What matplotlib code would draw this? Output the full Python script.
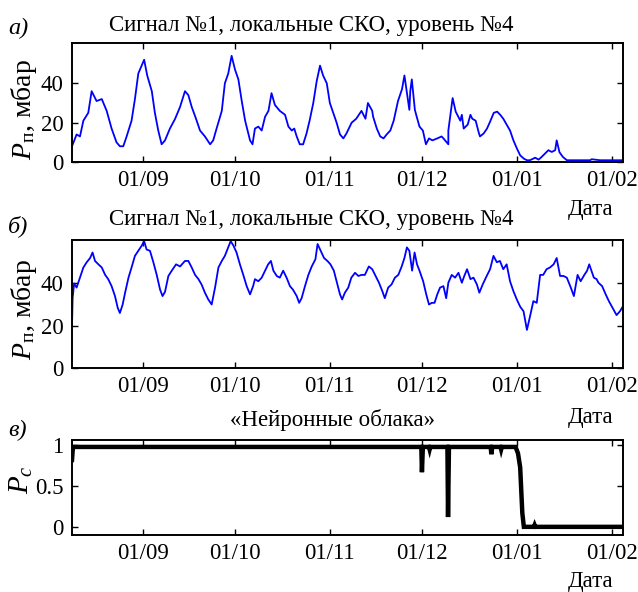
import numpy as np
import matplotlib
matplotlib.use("Agg")
import matplotlib.pyplot as plt
import matplotlib.dates as mdates

plt.rcParams["font.family"] = ["Liberation Serif", "DejaVu Serif"]
plt.rcParams["mathtext.fontset"] = "custom"
plt.rcParams["mathtext.rm"] = "Liberation Serif"
plt.rcParams["mathtext.it"] = "Liberation Serif:italic"
plt.rcParams["font.size"] = 16.5

# day offsets from 09 Aug
start = np.datetime64("2013-08-09")

days_a = [0, 1.5, 2.6, 3.7, 5.3, 6.4, 8.0, 9.7, 11.3, 12.9, 14.5, 15.6, 16.7, 17.8,
          19.4, 20.5, 21.6, 22.7, 23.5, 24.5, 26.0, 27.0, 28.1, 29.2, 30.3, 31.9,
          33.6, 35.2, 36.8, 37.9, 39.0, 40.4, 41.7, 43.3, 45.0, 46.0, 47.1, 48.8,
          49.8, 50.9, 52.0, 53.1, 54.2, 55.3, 56.4, 58.0, 58.8, 59.6, 60.7, 61.8,
          62.9, 64.0, 65.0, 66.1, 67.7, 69.4, 70.5, 71.6, 72.4, 73.2, 74.2, 75.3,
          76.4, 77.4, 78.6, 79.7, 80.8, 81.8, 83.0, 84.0, 85.1, 86.2, 87.3, 88.4,
          89.4, 91.1, 92.6, 94.3, 95.6, 96.4, 97.8, 98.1, 99.3, 100.4, 101.5, 102.5,
          103.7, 104.8, 106.2, 107.5, 108.3, 109.9, 110.2, 110.7, 111.7, 112.3, 113.2,
          114.3, 115.3, 116.3, 117.4, 119.0, 120.4, 121.0, 121.0, 122.6, 122.6, 124.0,
          125.0, 126.5, 127.0, 127.6, 128.9, 129.8, 130.4, 131.5, 132.5, 132.9,
          134.1, 135.2, 136.2, 137.4, 138.5, 139.5, 140.5, 141.6, 142.7, 143.8,
          144.9, 146.0, 147.2, 148.2, 149.2, 150.9, 152.0, 153.0, 154.1, 155.2,
          156.3, 157.4, 157.9, 158.8, 159.9, 161.2, 165.5, 168.8, 169.3, 172.0,
          176.4, 179.5]
p_a = [8, 14, 13, 21, 25, 36, 31, 32, 26, 17, 10, 8, 8, 13,
       21, 32, 45, 49, 52, 44, 36, 25, 16, 9, 11, 17,
       22, 28, 36, 34, 28, 22, 16, 13, 9, 11, 17, 26,
       40, 45, 54, 47, 42, 31, 21, 11, 9, 17, 18, 16,
       23, 26, 35, 29, 26, 24, 18, 16, 17, 13, 9, 9,
       14.5, 21, 30, 41, 49, 44, 40, 30, 25, 20, 14, 12,
       14.5, 20, 22, 26, 22, 30, 26, 23, 17, 13, 12, 14,
       16, 21, 31, 37, 44, 26.5, 36, 42, 26.5, 23, 18,
       16, 9, 12, 11, 12, 13, 12, 12, 9, 16, 32.5,
       25.6, 21, 24, 17, 19, 24, 22, 21, 15, 13,
       14.5, 17, 20.5, 25, 25.6, 24, 22, 19, 16, 11,
       7, 3.4, 1.7, 0.9, 0.9, 2.2, 1.2, 2.6, 4.3, 6,
       5.1, 6, 11, 5, 2.6, 0.9, 0.9, 0.9, 1.4, 0.9,
       0.9, 0.9]

days_b = [0, 0.2, 0.7, 1.5, 2.6, 3.7, 4.8, 5.9, 6.7, 7.5, 8.6, 9.7, 10.8, 11.8,
          12.9, 14.0, 14.9, 15.6, 16.5, 17.3, 18.4, 19.4, 20.5, 21.6, 22.7, 23.5,
          24.3, 25.4, 26.5, 27.6, 28.7, 29.5, 30.3, 31.4, 32.5, 33.9, 35.2, 36.8,
          37.9, 39.0, 40.1, 41.2, 42.2, 43.3, 44.4, 45.5, 46.6, 47.7, 48.8, 49.8,
          50.9, 51.7, 52.6, 53.6, 54.7, 55.8, 56.9, 58.0, 59.0, 59.6, 60.7, 61.8,
          62.9, 63.9, 64.8, 65.6, 66.7, 67.7, 68.8, 69.9, 71.0, 72.0, 73.2, 74.0,
          74.8, 75.9, 77.0, 78.1, 79.3, 80.0, 81.0, 82.1, 83.2, 84.2, 85.3, 86.3,
          87.3, 88.0, 88.9, 90.0, 91.0, 92.2, 93.3, 94.3, 95.4, 96.7, 97.8, 98.9,
          100.0, 101.1, 101.9, 103.0, 104.1, 105.2, 106.3, 107.4, 108.3, 109.1,
          109.9, 110.8, 111.6, 112.4, 113.2, 114.4, 115.4, 116.3, 117.2, 118.1, 119.0,
          119.9, 121.0, 121.9, 122.6, 123.7, 124.8, 125.9, 127.0, 127.8, 128.7, 129.8,
          130.8, 131.9, 132.7, 133.8, 135.1, 136.2, 137.3, 138.4, 139.4, 140.5,
          141.6, 142.7, 143.8, 144.9, 146.0, 147.1, 148.2, 149.3, 150.3, 151.4,
          152.5, 153.5, 154.6, 155.7, 156.9, 157.9, 159.0, 160.1, 161.2, 162.5,
          163.5, 164.7, 165.7, 166.9, 167.8, 168.5, 170.0, 170.9, 171.5, 172.7,
          173.8, 174.9, 176.1, 177.4, 178.5, 179.4]
p_b = [20, 33, 40, 38, 42.7, 47.5, 50, 52, 54.6, 50.6, 49, 47.5, 44, 42,
       38.7, 34, 28.4, 26, 30, 35.6, 42.7, 47.5, 53, 55.4, 57.8, 60,
       56, 55.4, 50, 44, 37, 34, 36, 43.5, 46, 49, 48, 50.6,
       50.6, 47.5, 44, 42, 39.5, 35.6, 32.4, 30, 38, 47.5, 50.6, 53,
       57, 60, 57.8, 54.6, 49, 44, 38.7, 34.8, 38.7, 42, 41, 42.7,
       46, 49, 50.6, 46, 43.5, 42.7, 46, 42.7, 38.7, 37, 34, 30.8,
       33, 38.7, 44, 48, 51.4, 58.6, 55.4, 52, 50.6, 49, 46, 40.3,
       34.8, 32.4, 35.6, 38, 42.7, 45, 43.5, 44, 44, 48, 46.7, 43.5,
       40.3, 36.3, 33, 38, 39.5, 42.7, 44, 48, 52, 57,
       55.4, 46, 54.6, 49, 46, 41, 34.8, 30, 30.8, 30.8, 34.8,
       38, 38.7, 33, 40.3, 44, 42.7, 45, 40.3, 43.5, 46.7, 42,
       42.7, 39.5, 35.6, 39.5, 43.5, 46.7, 53, 50, 50.6, 46.7,
       49, 41, 36.3, 32.4, 29, 26.8, 18, 25, 31.6, 30.8,
       44, 44, 46.7, 47.5, 49, 52, 43.5, 43.5, 42.7, 38,
       34, 44, 41, 44, 46, 49, 42.7, 42, 40.3, 38.7,
       35, 31.6, 28.4, 25, 26.8, 29]

days_c = [0, 0.3, 0.6, 113.8, 114.0, 114.3, 116.3, 116.5, 116.7, 122.3, 122.5, 122.8,
          136.4, 136.6, 136.9, 139.6, 139.8, 140.0, 144.5, 145.3, 146.0, 146.7,
          147.2, 150.5, 150.7, 150.9, 179.5]
p_c = [0.82, 0.98, 0.98, 0.98, 0.67, 0.98, 0.98, 0.95, 0.98, 0.98, 0.12, 0.98,
       0.98, 0.89, 0.98, 0.98, 0.95, 0.98, 0.98, 0.90, 0.73, 0.17,
       0.0, 0.0, 0.02, 0.0, 0.0]


def to_dates(d):
    return start + (np.asarray(d) * 24 * 3600).astype("timedelta64[s]")


W, H = 638, 592
fig = plt.figure(figsize=(W / 100, H / 100), dpi=100)


def add_panel(x0, y_top, x1, y_bot):
    return fig.add_axes([x0 / W, 1 - y_bot / H, (x1 - x0) / W, (y_bot - y_top) / H])


xlim = (to_dates([0])[0], to_dates([179.5])[0])

ax1 = add_panel(72, 43, 623, 162)
ax2 = add_panel(72, 240, 623, 368)
ax3 = add_panel(72, 440, 623, 535)

ax1.plot(to_dates(days_a), p_a, color="#0000ff", lw=1.3)
ax2.plot(to_dates(days_b), p_b, color="#0000ff", lw=1.3)
ax3.plot(to_dates(days_c), p_c, color="black", lw=3.2, solid_joinstyle="miter")

ax1.set_ylim(0, 60.5)
ax1.set_yticks([0, 20, 40])
ax2.set_ylim(0, 60.5)
ax2.set_yticks([0, 20, 40])
ax3.set_ylim(-0.1, 1.065)
ax3.set_yticks([0, 0.5, 1])
ax3.set_yticklabels(["0", "0.5", "1"])

for ax in (ax1, ax2, ax3):
    ax.set_xlim(*xlim)
    ax.xaxis.set_major_locator(mdates.MonthLocator())
    ax.xaxis.set_major_formatter(mdates.DateFormatter("%d/%m"))
    ax.tick_params(direction="in", top=True, right=True, length=4, width=1,
                   labelsize=16.5, pad=6)
    for s in ax.spines.values():
        s.set_linewidth(1.4)

# titles and letters
fs = 16.5
fig.text(311 / W, 1 - 25 / H, "Сигнал №1, локальные СКО, уровень №4", ha="center", va="center", fontsize=fs)
fig.text(311 / W, 1 - 220 / H, "Сигнал №1, локальные СКО, уровень №4", ha="center", va="center", fontsize=fs)
fig.text(333 / W, 1 - 420 / H, "«Нейронные облака»", ha="center", va="center", fontsize=fs)
fig.text(8 / W, 1 - 28 / H, "а)", style="italic", ha="left", va="center", fontsize=fs + 1)
fig.text(8 / W, 1 - 226 / H, "б)", style="italic", ha="left", va="center", fontsize=fs + 1)
fig.text(8 / W, 1 - 430 / H, "в)", style="italic", ha="left", va="center", fontsize=fs + 1)

for y in (210, 417, 581):
    fig.text(591 / W, 1 - y / H, "Дата", ha="center", va="center", fontsize=fs)

fig.text(24 / W, 1 - 110 / H, r"$P_{\mathrm{п}}$, мбар", rotation=90, ha="center", va="center", fontsize=20)
fig.text(24 / W, 1 - 310 / H, r"$P_{\mathrm{п}}$, мбар", rotation=90, ha="center", va="center", fontsize=20)
fig.text(21 / W, 1 - 480 / H, r"$P_c$", rotation=90, ha="center", va="center", fontsize=21)

fig.savefig("out.png", dpi=100)
